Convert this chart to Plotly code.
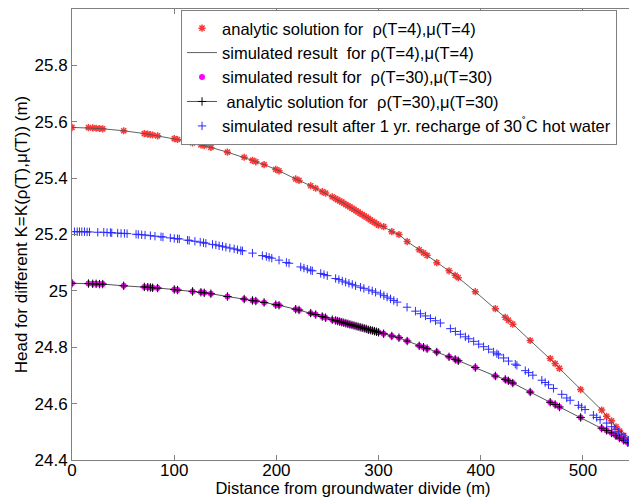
import plotly.graph_objects as go

# Mesh node positions (m) shared by the T=4 and T=30 solutions
x_mesh = [0, 16.1, 20.3, 23.6, 26.9, 30.1, 50.6, 70.8, 74.1, 76.7, 78.9, 83.8, 100.1, 103.3,
          118, 126.2, 129.4, 135.9, 152.1, 168.5, 176.6, 179.9, 188, 199.4, 202.6, 218.9,
          222.2, 233.6, 238.5, 244.9, 248.2, 254.7,
          258, 260, 262, 264, 266, 268, 270, 272, 274, 276, 278, 280, 282, 284, 286, 288,
          290, 292, 294, 296, 298, 300,
          305, 313, 320, 328, 339.8, 344, 347.5, 357, 369, 375, 378, 394.7, 414.3, 424,
          427, 431.4, 448.4, 468, 472.8, 477, 497.8, 518.4, 523.2, 528, 532.4, 536, 540,
          544, 550]

# Head for T=4
y_t4 = [25.580, 25.579, 25.578, 25.577, 25.576, 25.575, 25.568, 25.558, 25.556, 25.554,
        25.553, 25.550, 25.540, 25.537, 25.525, 25.518, 25.515, 25.509, 25.492, 25.474,
        25.463, 25.458, 25.448, 25.431, 25.426, 25.397, 25.392, 25.373, 25.364, 25.352,
        25.347, 25.334,
        25.327, 25.323, 25.319, 25.315, 25.311, 25.306, 25.302, 25.298, 25.293, 25.289,
        25.284, 25.280, 25.275, 25.271, 25.266, 25.262, 25.257, 25.252, 25.247, 25.243,
        25.238, 25.233,
        25.228, 25.210, 25.200, 25.175, 25.146, 25.135, 25.126, 25.100, 25.071, 25.055,
        25.047, 24.997, 24.937, 24.906, 24.896, 24.882, 24.824, 24.760, 24.742, 24.725,
        24.650, 24.577, 24.555, 24.539, 24.518, 24.503, 24.487, 24.470, 24.445]

# Head for T=30
y_t30 = [25.027, 25.026, 25.025, 25.025, 25.024, 25.024, 25.018, 25.014, 25.013, 25.012,
         25.011, 25.010, 25.005, 25.003, 24.998, 24.995, 24.993, 24.990, 24.980, 24.971,
         24.966, 24.964, 24.959, 24.951, 24.949, 24.935, 24.932, 24.921, 24.916, 24.909,
         24.905, 24.898,
         24.895, 24.893, 24.891, 24.889, 24.887, 24.885, 24.883, 24.881, 24.879, 24.877,
         24.875, 24.873, 24.871, 24.869, 24.867, 24.865, 24.862, 24.861, 24.859, 24.857,
         24.855, 24.853,
         24.848, 24.840, 24.834, 24.822, 24.805, 24.800, 24.795, 24.783, 24.766, 24.757,
         24.752, 24.728, 24.698, 24.686, 24.681, 24.673, 24.641, 24.605, 24.597, 24.588,
         24.551, 24.513, 24.505, 24.496, 24.486, 24.478, 24.470, 24.461, 24.447]

# Transient result after 1 yr recharge of 30 C water
x_hot = [2.4, 5.1, 7.3, 9.6, 12.2, 14.8, 17.1, 25.2, 31.1, 34.3, 37.6, 38.9, 44.7, 48, 51.3,
         53.9, 62.7, 64.9, 68.2, 71.5, 76.7, 81.2, 87.1, 89, 96.2, 100.1, 103.3, 105, 113.1,
         114.7, 120.3, 125.5, 128.7, 131, 137.5,
         140.8, 144, 147.3, 150.6, 154.5, 158.7, 161.9, 165.2, 166.8, 176.6, 186.3, 190.2,
         192.9, 195.5, 202.6, 209.8, 212.4, 223.8, 227, 230.3, 233.6, 235.2, 243.4, 246.6,
         249.8, 258, 261.2, 264.5, 267.8, 271, 274.3, 277.5,
         282.4, 285.6, 290.5, 293.8, 297.1, 301.9, 305.2, 308.4, 311.7, 314.9, 318.2, 327.9,
         336.1, 341, 345.9, 350.8, 355.7, 360.5, 370.3, 375.2, 380.1, 385, 388.2, 393.1,
         398, 402.8, 407.7, 412.6, 415.8,
         417.5, 422.4, 427.2, 433.8, 435.4, 443.6, 446.8, 451, 459.8, 463.1, 466.3, 471.2,
         479.3, 484.2, 487.5, 495.6, 498.8, 502.1, 510.3, 513.5, 516.8, 523.3, 528.1, 531.4,
         534.7, 537.9, 541.2, 544.4, 548.6]
y_hot = [25.210, 25.210, 25.210, 25.210, 25.210, 25.209, 25.209, 25.208, 25.208, 25.207,
         25.207, 25.206, 25.205, 25.204, 25.204, 25.203, 25.201, 25.200, 25.199, 25.198,
         25.196, 25.194, 25.192, 25.191, 25.188, 25.186, 25.185, 25.184, 25.180, 25.179,
         25.176, 25.173, 25.171, 25.169, 25.165,
         25.163, 25.160, 25.158, 25.155, 25.152, 25.149, 25.146, 25.143, 25.142, 25.134,
         25.125, 25.122, 25.119, 25.116, 25.109, 25.101, 25.098, 25.085, 25.081, 25.077,
         25.073, 25.071, 25.062, 25.058, 25.054, 25.044, 25.040, 25.035, 25.031, 25.027,
         25.023, 25.018,
         25.013, 25.009, 25.003, 25.000, 24.995, 24.989, 24.983, 24.978, 24.972, 24.966,
         24.960, 24.942, 24.928, 24.919, 24.911, 24.902, 24.894, 24.886, 24.866, 24.856,
         24.846, 24.837, 24.830, 24.821, 24.811, 24.802, 24.793, 24.783, 24.777,
         24.773, 24.762, 24.751, 24.740, 24.736, 24.717, 24.710, 24.701, 24.683, 24.675,
         24.667, 24.654, 24.633, 24.620, 24.612, 24.594, 24.587, 24.579, 24.559, 24.551,
         24.543, 24.531, 24.518, 24.509, 24.500, 24.492, 24.481, 24.470, 24.455]

x_ticks = [0, 100, 200, 300, 400, 500]
y_ticks = [24.4, 24.6, 24.8, 25.0, 25.2, 25.4, 25.6, 25.8]
y_tick_text = ["24.4", "24.6", "24.8", "25", "25.2", "25.4", "25.6", "25.8"]

names = [
    "analytic solution for  \u03c1(T=4),\u03bc(T=4)",
    "simulated result  for \u03c1(T=4),\u03bc(T=4)",
    "simulated result for  \u03c1(T=30),\u03bc(T=30)",
    " analytic solution for  \u03c1(T=30),\u03bc(T=30)",
    "simulated result after 1 yr. recharge of 30<sup>\u02da</sup>C hot water",
]

fig = go.Figure()
fig.add_trace(go.Scatter(x=x_mesh, y=y_t4, mode="markers", name=names[0],
                         marker=dict(symbol="asterisk-open", size=6, color="#ff3838",
                                     line=dict(width=1.5, color="#ff3838"))))
fig.add_trace(go.Scatter(x=x_mesh, y=y_t4, mode="lines", name=names[1],
                         line=dict(color="#505050", width=0.9)))
fig.add_trace(go.Scatter(x=x_mesh, y=y_t30, mode="markers", name=names[2],
                         marker=dict(symbol="circle", size=6, color="#ff00ff")))
fig.add_trace(go.Scatter(x=x_mesh, y=y_t30, mode="lines+markers", name=names[3],
                         line=dict(color="#404040", width=0.9),
                         marker=dict(symbol="cross-thin-open", size=6, color="#000000",
                                     line=dict(width=1, color="#000000"))))
fig.add_trace(go.Scatter(x=x_hot, y=y_hot, mode="markers", name=names[4],
                         marker=dict(symbol="cross-thin-open", size=6, color="#2a2aff",
                                     line=dict(width=1, color="#2a2aff"))))

axis_common = dict(showgrid=False, zeroline=False, showline=True, linecolor="#808080",
                   linewidth=1, mirror="ticks", ticks="inside", ticklen=5,
                   tickcolor="#808080", tickfont=dict(size=17, color="black"),
                   automargin=False)

# The page body adds an 8 px offset, so the figure is sized to fit the 637x497 window.
fig.update_layout(
    width=629, height=489,
    margin=dict(l=64, r=3, t=1, b=37),
    paper_bgcolor="white", plot_bgcolor="white",
    font=dict(family="Liberation Sans, Arial, sans-serif", color="black"),
    xaxis=dict(range=[0, 550], tickvals=x_ticks, ticklabelstandoff=-5,
               title=dict(text="Distance from groundwater divide (m)", font=dict(size=16.5)),
               **axis_common),
    yaxis=dict(range=[24.4, 26.0], tickvals=y_ticks, ticktext=y_tick_text,
               title=dict(text="Head for different K=K(\u03c1(T),\u03bc(T)) (m)",
                          font=dict(size=17), standoff=2),
               **axis_common),
    legend=dict(x=0.194, y=0.998, xanchor="left", yanchor="top",
                bgcolor="white", bordercolor="#808080", borderwidth=1,
                font=dict(size=16.5, color="black"), tracegroupgap=0),
    showlegend=True,
)

fig.write_html("out.html")
